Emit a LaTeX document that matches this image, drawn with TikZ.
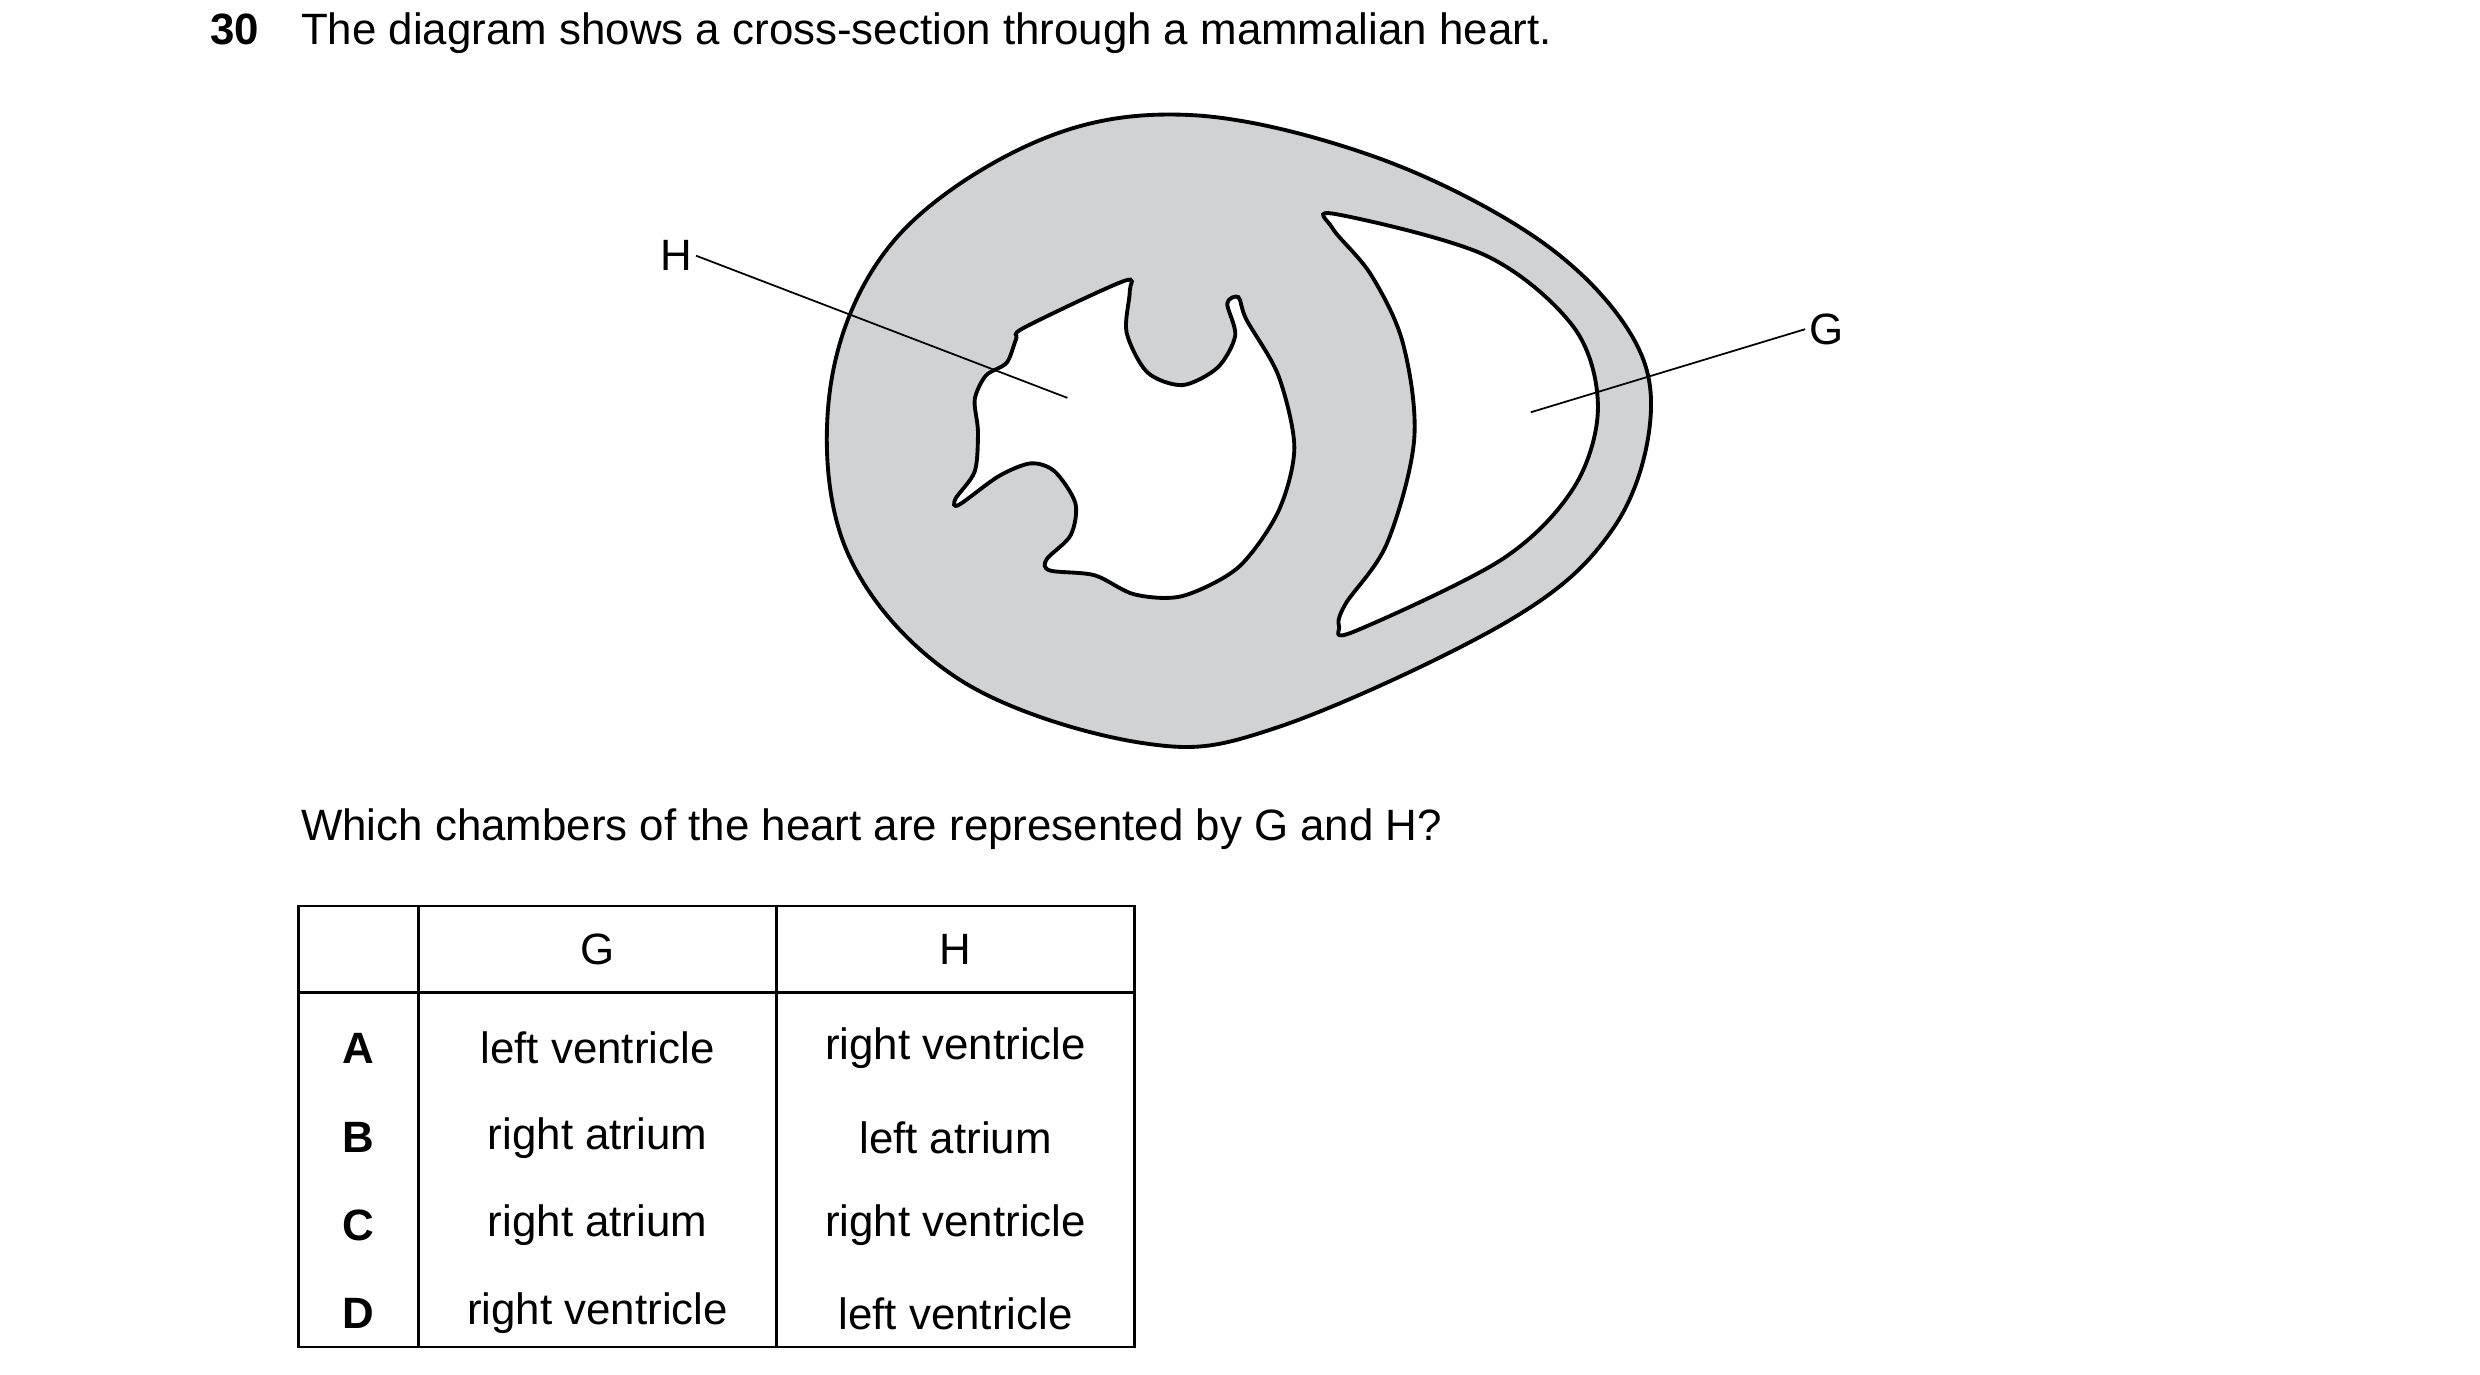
\documentclass[tikz,border=0pt]{standalone}
\usepackage{fontspec}
\setmainfont{Liberation Sans}
\usepackage{tikz}
\usetikzlibrary{positioning}
\definecolor{wallgrey}{HTML}{D1D2D4}
\tikzset{
  qtext/.style={font=\fontsize{12.5}{15}\selectfont, inner sep=0pt},
  lbl/.style={font=\fontsize{12.5}{15}\selectfont, inner sep=1pt},
  wall/.style={draw=black, line width=1.1pt},
  leader/.style={draw=black, line width=0.5pt}
}
\begin{document}
\begin{tikzpicture}[x={(0.016cm,0)}, y={(0,-0.016cm)}]
    \useasboundingbox (0,0) rectangle (1552,860);

    % question
    \node[qtext, anchor=base west, font=\fontsize{12.5}{15}\selectfont\bfseries] (num) at (131,28) {30};
    \node[qtext, anchor=base west] (stem) at (188,28) {The diagram shows a cross-section through a mammalian heart.};

    % heart wall
    \fill[wallgrey] plot[smooth cycle, tension=0.6] coordinates {(745,72) (860,98) (960,148) (1018,205) (1033,260) (1010,330) (945,388) (800,455) (715,465) (600,425) (530,345) (520,240) (560,150) (650,88)};
    \draw[wall] plot[smooth cycle, tension=0.6] coordinates {(745,72) (860,98) (960,148) (1018,205) (1033,260) (1010,330) (945,388) (800,455) (715,465) (600,425) (530,345) (520,240) (560,150) (650,88)};

    % chamber G
    \draw[wall, fill=white] plot[smooth cycle, tension=0.55] coordinates {(836,134) (930,160) (985,205) (1000,255) (985,305) (940,350) (848,395) (838,392) (842,378) (868,340) (885,275) (878,215) (858,172) (834,143)};

    % chamber H
    \draw[wall, fill=white] plot[smooth cycle, tension=0.5] coordinates {(641,205) (703,176) (707,182) (705,208) (718,233) (740,241) (762,230) (773,210) (768,190) (775,186) (780,200) (800,235) (810,280) (800,320) (775,355) (740,373) (710,372) (685,360) (657,357) (655,350) (670,335) (673,315) (660,295) (645,290) (625,298) (600,316) (598,312) (610,295) (612,270) (610,250) (617,235) (630,227) (636,212)};

    % labels
    \node[lbl] (H) at (423,160) {H};
    \node[lbl] (G) at (1143,206) {G};
    \coordinate (Hend) at (668,249);
    \coordinate (Gend) at (958,258);
    \draw[leader] (H.east) -- (Hend);
    \draw[leader] (G.west) -- (Gend);

    \node[qtext, anchor=base west] (ask) at (188,526) {Which chambers of the heart are represented by G and H?};

    % table
    \draw[line width=0.8pt] (187,567) rectangle (710,843);
    \draw[line width=0.8pt] (187,621) -- (710,621);
    \draw[line width=0.8pt] (262,567) -- (262,843);
    \draw[line width=0.8pt] (486,567) -- (486,843);
    \node[qtext] (colG) at (374,594) {G};
    \node[qtext] (colH) at (598,594) {H};
    \foreach \y/\k/\g/\h in {656/A/left ventricle/right ventricle,
                             712/B/right atrium/left atrium,
                             767/C/right atrium/right ventricle,
                             822/D/right ventricle/left ventricle} {
        \node[qtext, font=\fontsize{12.5}{15}\selectfont\bfseries] (key\k) at (224,\y) {\k};
        \node[qtext] (g\k) at (374,\y) {\g};
        \node[qtext] (h\k) at (598,\y) {\h};
    }
\end{tikzpicture}
\end{document}
